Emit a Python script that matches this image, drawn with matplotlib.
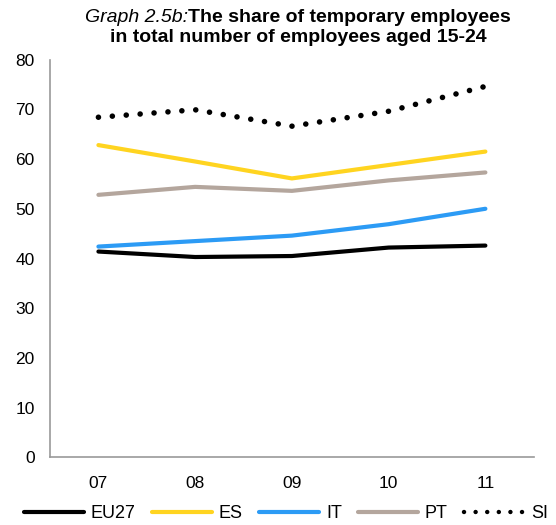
import matplotlib
matplotlib.use("Agg")
import matplotlib.pyplot as plt
from matplotlib.lines import Line2D

plt.rcParams['font.family'] = ['Liberation Sans', 'DejaVu Sans']

years = ["07", "08", "09", "10", "11"]
eu27 = [41.4, 40.3, 40.5, 42.2, 42.6]
es = [62.8, 59.5, 56.1, 58.8, 61.5]
it = [42.4, 43.5, 44.6, 46.9, 50.0]
pt = [52.8, 54.4, 53.6, 55.7, 57.3]
si = [68.4, 69.9, 66.6, 69.6, 74.6]
yticks = [0, 10, 20, 30, 40, 50, 60, 70, 80]

fig = plt.figure(figsize=(5.56, 5.25), dpi=100)
ax = fig.add_axes([0.09, 0.1286, 0.870, 0.758])

x = list(range(len(years)))
lw = 3.0
ax.plot(x, eu27, color='black', lw=lw, solid_capstyle='round', label='EU27')
ax.plot(x, es, color='#FFD420', lw=lw, solid_capstyle='round', label='ES')
ax.plot(x, it, color='#2C9BF5', lw=lw, solid_capstyle='round', label='IT')
ax.plot(x, pt, color='#B4A69D', lw=lw, solid_capstyle='round', label='PT')
ax.plot(x, si, color='black', lw=4.0, linestyle=(0, (0.01, 2.5)),
        dash_capstyle='round', label='SI')

ax.set_xlim(-0.5, len(years) - 0.5)
ax.set_ylim(0, 80)
ax.set_xticks(x)
ax.set_xticklabels(years)
ax.set_yticks(yticks)
ax.tick_params(axis='both', length=0, labelsize=12.5, colors='black')
ax.tick_params(axis='y', pad=11)
ax.tick_params(axis='x', pad=13)
for s in ['top', 'right']:
    ax.spines[s].set_visible(False)
for s in ['left', 'bottom']:
    ax.spines[s].set_color('#999999')
    ax.spines[s].set_linewidth(1.2)

fs_t = 14
t1 = fig.text(0, 0, "Graph 2.5b:", fontsize=fs_t, style='italic', va='center')
t2 = fig.text(0, 0, "The share of temporary employees", fontsize=fs_t,
              fontweight='bold', va='center')
fig.canvas.draw()
r = fig.canvas.get_renderer()
w1 = t1.get_window_extent(r).width
w2 = t2.get_window_extent(r).width
W = fig.bbox.width
cx = 298.0
start = cx - (w1 + w2) / 2
y1 = 1 - 18 / 525
t1.set_position((start / W, y1))
t2.set_position(((start + w1) / W, y1))
fig.text(cx / W, 1 - 37 / 525, "in total number of employees aged 15-24", ha='center',
         va='center', fontsize=fs_t, fontweight='bold')

handles, labels = ax.get_legend_handles_labels()
handles[-1] = Line2D([], [], color='black', lw=3.2, linestyle=(0, (0.01, 2.6)),
                     dash_capstyle='round')
leg = fig.legend(handles, labels, loc='center', bbox_to_anchor=(286 / W, 1 - 514 / 525),
                 ncol=5, frameon=False, fontsize=13, handlelength=3.3, handletextpad=0.4,
                 columnspacing=0.9, borderaxespad=0, borderpad=0)
plt.savefig('out.png', dpi=100)
